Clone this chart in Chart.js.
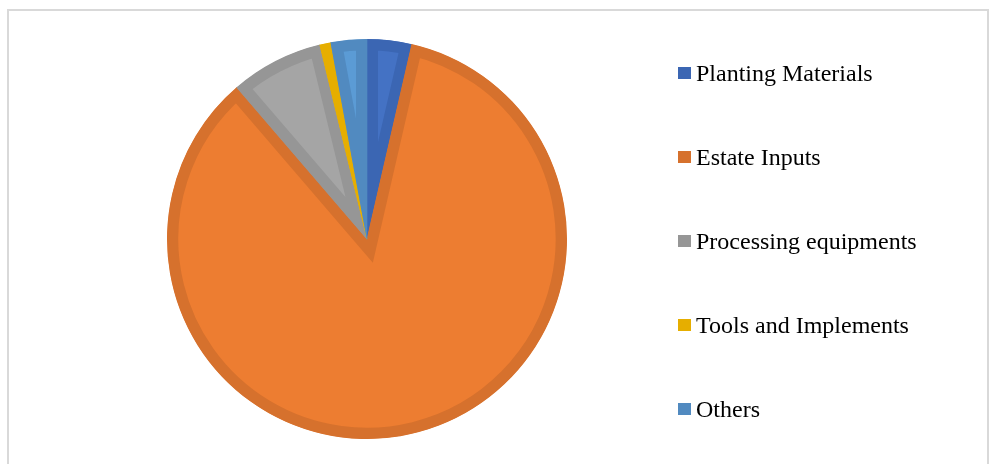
<!DOCTYPE html>
<html>
<head>
<meta charset="utf-8">
<script src="https://cdn.jsdelivr.net/npm/chart.js@4/dist/chart.umd.min.js"></script>
<style>
  html, body { margin: 0; padding: 0; background: #fff; }
  #wrap { position: relative; width: 989px; height: 464px; overflow: hidden; }
  #frame { position: absolute; left: 7px; top: 9px; width: 978px; height: 470px; border: 2px solid #d9d9d9; }
  #pieChart { position: absolute; left: 0; top: 0; }
  #legend { position: absolute; left: 678px; top: 0; font-family: "Liberation Serif", "Times New Roman", serif; font-size: 24px; color: #000; }
  .item { position: absolute; left: 0; white-space: nowrap; display: flex; align-items: center; height: 28px; }
  .box { width: 13px; height: 12px; margin-right: 5px; }
</style>
</head>
<body>
<div id="wrap">
  <div id="frame"></div>
  <canvas id="pieChart" width="989" height="464"></canvas>
  <div id="legend"></div>
</div>
<script>
const labels = ["Planting Materials", "Estate Inputs", "Processing equipments", "Tools and Implements", "Others"];
const shares = [3.6, 85.1, 7.5, 0.9, 2.9];
const fillColors = ["#4472C4", "#ED7D31", "#A5A5A5", "#FFC000", "#5B9BD5"];
const edgeColors = ["#3B66B3", "#D6712D", "#969696", "#E6AE00", "#518AC0"];

function renderPieChart() {
  const ctx = document.getElementById("pieChart").getContext("2d");

  new Chart(ctx, {
    type: 'pie',
    data: {
      labels,
      datasets: [{
        data: shares,
        backgroundColor: fillColors,
        borderColor: edgeColors,
        borderWidth: 11,
        borderAlign: 'inner',
        borderJoinStyle: 'miter'
      }]
    },
    options: {
      responsive: false,
      animation: false,
      layout: { padding: { left: 167, right: 422, top: 39, bottom: 25 } },
      plugins: {
        legend: { display: false },
        tooltip: { enabled: false }
      }
    }
  });

  // legend kept as html text on the right
  const box = document.getElementById("legend");
  labels.forEach((name, i) => {
    const row = document.createElement("div");
    row.className = "item";
    row.style.top = (59 + i * 84) + "px";
    row.innerHTML = `<span class="box" style="background:${edgeColors[i]}"></span><span>${name}</span>`;
    box.appendChild(row);
  });
}

document.addEventListener("DOMContentLoaded", renderPieChart);
</script>
</body>
</html>
